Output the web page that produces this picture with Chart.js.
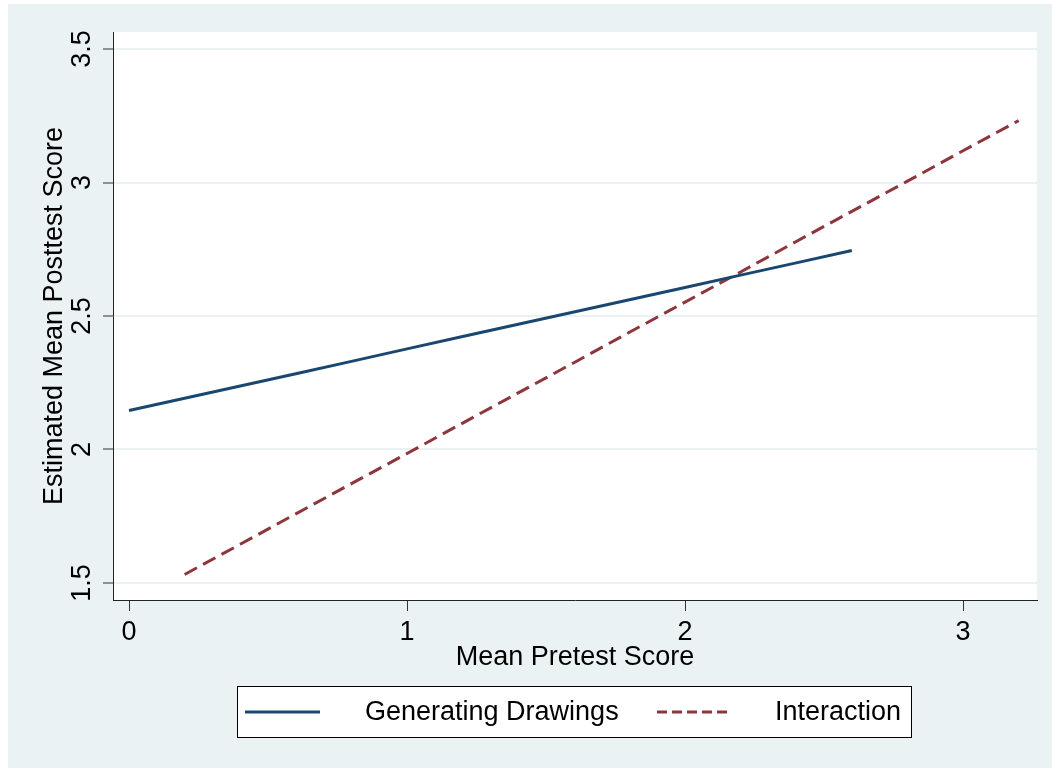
<!DOCTYPE html>
<html lang="en">
<head>
    <meta charset="UTF-8">
    <title>Estimated Mean Posttest Score</title>
    <script src="https://cdn.jsdelivr.net/npm/chart.js"></script>
    <style>
        html, body { margin: 0; padding: 0; background: #fff; }
        #wrap { position: absolute; left: 8px; top: 4px; width: 1044px; height: 764px; }
    </style>
</head>
<body>
    <div id="wrap"><canvas id="fitChart"></canvas></div>
    <script>
    // Werte
    const xTicks = [0, 1, 2, 3];
    const yTicks = [1.5, 2, 2.5, 3, 3.5];

    const genLabel = 'Generating Drawings';
    const genX = [0, 0.2, 0.4, 0.6, 0.8, 1.0, 1.2, 1.4, 1.6, 1.8, 2.0, 2.2, 2.4, 2.6];
    const genY = [2.146, 2.192, 2.238, 2.284, 2.330, 2.377, 2.423, 2.469, 2.515, 2.561, 2.607, 2.653, 2.699, 2.745];

    const intLabel = 'Interaction';
    const intX = [0.2, 0.4, 0.6, 0.8, 1.0, 1.2, 1.4, 1.6, 1.8, 2.0, 2.2, 2.4, 2.6, 2.8, 3.0, 3.2];
    const intY = [1.532, 1.645, 1.759, 1.872, 1.985, 2.099, 2.212, 2.325, 2.439, 2.552, 2.665, 2.779, 2.892, 3.005, 3.119, 3.232];

    const xTitle = 'Mean Pretest Score';
    const yTitle = 'Estimated Mean Posttest Score';

    const FAMILY = "'Liberation Sans', Arial, sans-serif";
    const FONT = "27px " + FAMILY;
    const BG = '#eaf2f3';
    const NAVY = '#1a476f';
    const MAROON = '#90353b';

    // Hintergrund, gedrehte y-Beschriftung, Achsentitel und Legende
    const stataLook = {
        id: 'stataLook',
        beforeDraw(chart) {
            const c = chart.ctx, a = chart.chartArea;
            c.save();
            c.fillStyle = BG;
            c.fillRect(0, 0, chart.width, chart.height);
            c.fillStyle = '#fff';
            c.fillRect(a.left, a.top, a.right - a.left, a.bottom - a.top);
            c.restore();
        },
        afterDraw(chart) {
            const c = chart.ctx, a = chart.chartArea;
            const ys = chart.scales.y;
            c.save();
            c.font = FONT;
            c.fillStyle = '#000';
            c.textAlign = 'center';
            c.textBaseline = 'middle';
            // y tick labels, rotated
            yTicks.forEach(v => {
                c.save();
                c.translate(75, ys.getPixelForValue(v));
                c.rotate(-Math.PI / 2);
                c.fillText(String(v), 0, 0);
                c.restore();
            });
            // y title
            c.save();
            c.translate(47, (a.top + a.bottom) / 2);
            c.rotate(-Math.PI / 2);
            c.fillText(yTitle, 0, 0);
            c.restore();
            // x title
            c.fillText(xTitle, (a.left + a.right) / 2, 654);

            // legend box
            const bx = 229.5, by = 682.5, bw = 674, bh = 51;
            c.fillStyle = '#fff';
            c.fillRect(bx, by, bw, bh);
            c.strokeStyle = '#000';
            c.lineWidth = 1;
            c.strokeRect(bx, by, bw, bh);
            const ly = by + bh / 2;
            const items = [
                { ds: chart.data.datasets[0], x0: 237, x1: 312, tx: 357, dash: [] },
                { ds: chart.data.datasets[1], x0: 649, x1: 720, tx: 767, dash: [10, 5] }
            ];
            items.forEach(it => {
                c.beginPath();
                c.setLineDash(it.dash);
                c.strokeStyle = it.ds.borderColor;
                c.lineWidth = 3;
                c.moveTo(it.x0, ly);
                c.lineTo(it.x1, ly);
                c.stroke();
                c.setLineDash([]);
                c.fillStyle = '#000';
                c.textAlign = 'left';
                c.fillText(it.ds.label, it.tx, ly + 1);
            });
            c.restore();
        }
    };

    new Chart(document.getElementById('fitChart'), {
        type: 'line',
        data: {
            datasets: [{
                label: genLabel,
                data: genX.map((x, i) => ({ x: x, y: genY[i] })),
                borderColor: NAVY,
                borderWidth: 3,
                pointRadius: 0,
                tension: 0
            }, {
                label: intLabel,
                data: intX.map((x, i) => ({ x: x, y: intY[i] })),
                borderColor: MAROON,
                borderWidth: 3,
                borderDash: [14, 7],
                pointRadius: 0,
                tension: 0
            }]
        },
        plugins: [stataLook],
        options: {
            responsive: true,
            maintainAspectRatio: false,
            animation: false,
            layout: { padding: { top: 28, right: 15, left: 0, bottom: 0 } },
            plugins: { legend: { display: false }, tooltip: { enabled: false } },
            scales: {
                x: {
                    type: 'linear',
                    min: -0.0576, max: 3.266,
                    afterFit: s => { s.height = 168; },
                    afterBuildTicks: s => { s.ticks = xTicks.map(v => ({ value: v })); },
                    grid: { drawOnChartArea: false, tickLength: 11, tickColor: '#333', tickWidth: 1 },
                    border: { color: '#222', width: 1 },
                    ticks: { color: '#000', font: { family: FAMILY, size: 27 }, padding: 5, maxRotation: 0 }
                },
                y: {
                    type: 'linear',
                    min: 1.4363, max: 3.5637,
                    afterFit: s => { s.width = 105; },
                    afterBuildTicks: s => { s.ticks = yTicks.map(v => ({ value: v })); },
                    grid: { color: BG, lineWidth: 2, tickLength: 10, tickColor: '#333', tickWidth: 1 },
                    border: { color: '#222', width: 1 },
                    ticks: { display: false }
                }
            }
        }
    });
    </script>
</body>
</html>
